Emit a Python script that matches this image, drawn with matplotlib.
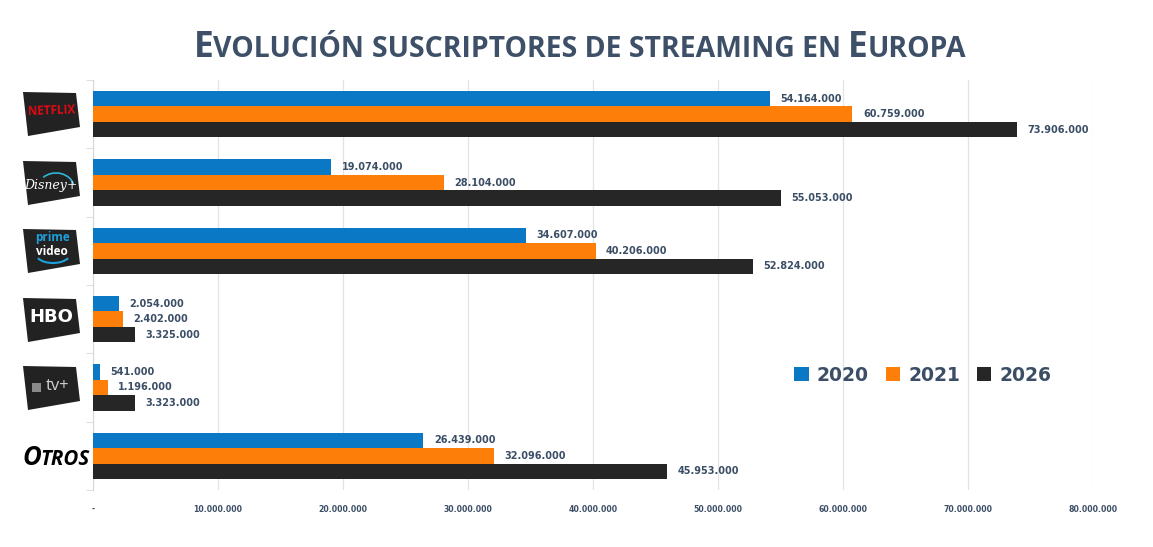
import numpy as np
import matplotlib
matplotlib.use("Agg")
from matplotlib import pyplot as plt
from matplotlib.patches import Polygon, Arc, Rectangle

# data
services = ["Netflix", "Disney+", "Prime Video", "HBO", "Apple TV+", "Otros"]
subs_2020 = [54164000, 19074000, 34607000, 2054000, 541000, 26439000]
subs_2021 = [60759000, 28104000, 40206000, 2402000, 1196000, 32096000]
subs_2026 = [73906000, 55053000, 52824000, 3325000, 3323000, 45953000]
years = ["2020", "2021", "2026"]
x_ticks = [0, 10000000, 20000000, 30000000, 40000000, 50000000, 60000000, 70000000, 80000000]

colors = ["#0a78c4", "#fd7f0a", "#262626"]
text_col = "#3b4e66"

W, H = 1153, 547
fig = plt.figure(figsize=(W / 100, H / 100), dpi=100)
ax = fig.add_axes([93 / W, 1 - 490 / H, 1000 / W, 410 / H])


def dots(v):
    return f"{v:,}".replace(",", ".")


y = np.arange(len(services))
bh = 0.225
for i, (vals, c) in enumerate(zip([subs_2020, subs_2021, subs_2026], colors)):
    pos = y + (i - 1) * bh
    ax.barh(pos, vals, height=bh, color=c, label=years[i], zorder=3)
    for p, v in zip(pos, vals):
        ax.annotate(dots(v), (v, p), xytext=(7.5, 0), textcoords="offset points",
                    va="center", ha="left", fontsize=7, fontweight="bold",
                    color=text_col, family="DejaVu Sans")

ax.set_xlim(0, 80000000)
ax.set_ylim(len(services) - 0.5, -0.5)
ax.set_xticks(x_ticks)
ax.set_xticklabels(["-"] + [dots(t) for t in x_ticks[1:]], fontsize=5.6,
                   fontweight="bold", color=text_col, family="DejaVu Sans")
ax.tick_params(axis="x", length=0, pad=11)
ax.set_yticks([])
ax.set_yticks(np.arange(len(services) + 1) - 0.5, minor=True)
ax.tick_params(axis="y", which="minor", length=5, color="#d8d8d8", labelleft=False)
ax.grid(axis="x", color="#e3e3e3", linewidth=0.9, zorder=0)
for s in ["top", "right", "bottom"]:
    ax.spines[s].set_visible(False)
ax.spines["left"].set_color("#d8d8d8")

leg = ax.legend(loc="center", bbox_to_anchor=(0.83, 0.28), ncol=3, frameon=False,
                handlelength=0.75, handleheight=0.75, handletextpad=0.45,
                columnspacing=0.9, prop={"family": "DejaVu Sans", "weight": "bold", "size": 13.5})
for t in leg.get_texts():
    t.set_color(text_col)


# logos drawn as dark tilted boxes with text
def fx(px):
    return px / W


def fy(py):
    return 1 - py / H


shape = [(-29, -22), (24, -21), (28, 13), (-24, 22)]


def logo_box(cx, cy):
    pts = [(fx(cx + dx), fy(cy + dy)) for dx, dy in shape]
    fig.add_artist(Polygon(pts, closed=True, facecolor="#222222", edgecolor="none",
                           transform=fig.transFigure))


centers = [(52, 114), (52, 183), (52, 251), (52, 320), (52, 388)]
for cx, cy in centers:
    logo_box(cx, cy)

fig.text(fx(52), fy(111), "NETFLIX", color="#e50914", fontsize=8.5, fontweight="bold",
         family="Open Sans", ha="center", va="center", rotation=2)
fig.text(fx(51), fy(186), "Disney+", color="white", fontsize=9, style="italic",
         family="DejaVu Serif", ha="center", va="center")
fig.add_artist(Arc((fx(56), fy(188)), fx(36), 30 / H, theta1=20, theta2=120,
                   color="#2fb6d6", linewidth=1.2, transform=fig.transFigure))
fig.text(fx(52), fy(237), "prime", color="#1ea0db", fontsize=8.5, fontweight="bold",
         family="Open Sans", ha="center", va="center")
fig.text(fx(52), fy(251), "video", color="white", fontsize=8.5, fontweight="bold",
         family="Open Sans", ha="center", va="center")
fig.add_artist(Arc((fx(53), fy(254)), fx(34), 18 / H, theta1=210, theta2=330,
                   color="#1ea0db", linewidth=1.5, transform=fig.transFigure))
fig.text(fx(51), fy(317), "HBO", color="white", fontsize=13, fontweight="heavy",
         family="DejaVu Sans", ha="center", va="center")
fig.add_artist(Rectangle((fx(32), fy(392)), fx(9), 9 / H, facecolor="#8a8a8a",
                         edgecolor="none", transform=fig.transFigure))
fig.text(fx(58), fy(386), "tv+", color="#d0d0d0", fontsize=12, family="Open Sans",
         ha="center", va="center")

# small caps helper for title and "Otros"
renderer = fig.canvas.get_renderer()


def small_caps(parts, x_center, y_px, size, color, ratio=0.8, **kw):
    texts = []
    for txt, big in parts:
        t = fig.text(0, fy(y_px), txt, fontsize=size if big else size * ratio,
                     color=color, va="baseline", ha="left", **kw)
        texts.append(t)
    widths = [t.get_window_extent(renderer).width for t in texts]
    x = x_center - sum(widths) / 2
    for t, w in zip(texts, widths):
        t.set_x(fx(x))
        x += w


title = [("E", True), ("VOLUCIÓN ", False), ("SUSCRIPTORES DE STREAMING EN ", False),
         ("E", True), ("UROPA", False)]
small_caps(title, 580, 57, 25.5, "#3d5068", fontweight="bold", family="Open Sans")
small_caps([("O", True), ("TROS", False)], 56, 465, 18.5, "black",
           fontweight="bold", style="italic", family="Open Sans")

fig.savefig("out.png", dpi=100)
